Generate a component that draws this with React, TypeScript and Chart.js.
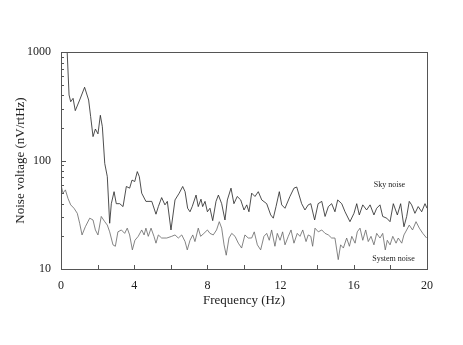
import React, { useEffect, useRef } from "react";
import { Chart, registerables } from "chart.js";

Chart.register(...registerables);

const skyFreq = [
  0.3, 0.44, 0.53, 0.66, 0.78, 1.02, 1.29, 1.51, 1.62, 1.75, 1.88, 2.02, 2.15, 2.26, 2.39, 2.53, 2.66, 2.75, 2.9, 3.02,
  3.21, 3.39, 3.57, 3.75, 3.88, 4.03, 4.17, 4.28, 4.41, 4.64, 4.96, 5.19, 5.32, 5.5, 5.68, 5.81, 6.01, 6.23, 6.46, 6.65,
  6.78, 6.92, 7.05, 7.17, 7.38, 7.5, 7.65, 7.74, 7.87, 8.0, 8.14, 8.29, 8.47, 8.6, 8.78, 8.96, 9.09, 9.29, 9.45, 9.63,
  9.82, 10.0, 10.15, 10.27, 10.42, 10.6, 10.78, 10.97, 11.24, 11.46, 11.6, 11.75, 11.93, 12.06, 12.24, 12.51, 12.73, 12.88, 13.15, 13.33,
  13.51, 13.65, 13.86, 14.05, 14.25, 14.43, 14.61, 14.79, 14.97, 15.12, 15.34, 15.52, 15.79, 16.01, 16.16, 16.3, 16.49, 16.7, 16.89, 17.1,
  17.25, 17.43, 17.58, 17.8, 17.98, 18.16, 18.38, 18.56, 18.74, 18.89, 19.03, 19.16, 19.34, 19.52, 19.71, 19.89, 20.0,
];
const skyNoise = [
  1400, 402, 348, 374, 288, 361, 473, 361, 254, 166, 195, 176, 261, 205, 94, 71, 26.4, 40, 51.6, 40,
  40, 37.6, 57.6, 55.6, 66, 64, 79, 71, 50, 42, 42, 32, 37.6, 45.5, 39, 42, 22.9, 43.3, 50, 57.6,
  51.6, 36.3, 33.7, 37.6, 48, 37.6, 44, 37.6, 42, 33.7, 36.3, 27.9, 42, 48, 40, 28.3, 43.3, 55.6, 40, 46.6,
  43.3, 35, 39, 33.7, 50, 46.6, 51.6, 43.3, 40, 31.5, 29.4, 37.6, 51.6, 39, 36.3, 46.6, 55.6, 57, 40, 35,
  39, 40, 28.3, 40, 42, 30.5, 37.6, 40, 33.7, 43.3, 40, 33.7, 27.3, 32.6, 40, 31.5, 39, 35, 39, 31.5,
  36.3, 39, 30.5, 29.4, 27.3, 40, 31.5, 40, 24.5, 30.5, 42, 39, 32.6, 37.6, 33.7, 40, 36.3,
];

const sysFreq = [
  0.0, 0.11, 0.24, 0.38, 0.53, 0.71, 0.89, 1.02, 1.15, 1.33, 1.57, 1.75, 1.88, 2.02, 2.2, 2.39, 2.53, 2.66, 2.84, 2.97,
  3.11, 3.3, 3.48, 3.62, 3.75, 3.9, 4.04, 4.22, 4.41, 4.54, 4.64, 4.77, 4.92, 5.08, 5.19, 5.32, 5.5, 5.78, 6.05, 6.23,
  6.41, 6.6, 6.78, 6.9, 7.05, 7.2, 7.32, 7.5, 7.63, 7.81, 8.0, 8.14, 8.32, 8.5, 8.65, 8.78, 8.91, 9.03, 9.18, 9.33,
  9.51, 9.69, 9.87, 10.05, 10.23, 10.42, 10.56, 10.73, 10.91, 11.09, 11.24, 11.38, 11.51, 11.69, 11.82, 11.97, 12.11, 12.24, 12.42, 12.57,
  12.73, 12.91, 13.06, 13.21, 13.39, 13.51, 13.65, 13.75, 13.88, 14.06, 14.25, 14.43, 14.61, 14.79, 14.97, 15.15, 15.28, 15.43, 15.61, 15.76,
  15.89, 16.07, 16.19, 16.34, 16.49, 16.65, 16.79, 16.94, 17.1, 17.25, 17.43, 17.58, 17.72, 17.83, 17.98, 18.13, 18.31, 18.43, 18.62, 18.74,
  18.89, 19.03, 19.21, 19.4, 19.58, 19.77, 19.98,
];
const sysNoise = [
  59.5, 50, 53.6, 44.8, 39, 36.3, 32.6, 26.4, 20.6, 24.5, 29.4, 28.3, 22.9, 20.6, 30.5, 27.3, 25.4, 22, 16.7, 16.2,
  22, 22.9, 21.3, 23.8, 20.6, 15, 18.4, 20, 22.9, 20.6, 23.8, 20, 23.8, 20, 17.3, 20.6, 19.3, 19.3, 20, 20.6,
  19.3, 20.6, 17.9, 15, 18.4, 20.6, 17.9, 23.8, 20, 21.3, 22.9, 21.3, 20.6, 22.9, 27.3, 23.8, 16.7, 13.4, 19.3, 21.3,
  20, 17.3, 15.6, 20.6, 19.3, 19.3, 22, 16.7, 15, 20, 21.3, 18.4, 22.9, 16.2, 21.3, 18.4, 22, 16.7, 20, 22.9,
  17.3, 21.3, 20, 22.9, 17.9, 20.6, 20, 16.2, 23.8, 22, 22.9, 21.3, 20.6, 19.3, 19.3, 12.2, 16.7, 15.6, 19.3, 16.2,
  20, 17.3, 22, 23.8, 18.4, 22.9, 17.9, 20, 16.7, 21.3, 19.3, 21.3, 15, 18.4, 16.7, 20, 17.3, 19.3, 17.3, 20.6,
  22.9, 25.4, 22.9, 27.3, 23.8, 21.3, 19.3,
];

const yTickLabels = [10, 100, 1000];
const xLabelStep = 4;
const xMinorStep = 2;

const labelNotes = [
  { text: "Sky noise", x: 17.95, y: 59.4 },
  { text: "System noise", x: 18.17, y: 12.4 },
];

const SERIF = "'Liberation Serif', 'DejaVu Serif', serif";

const framePlugin = {
  id: "frame",
  afterDatasetsDraw(chart: any) {
    const { ctx, chartArea: a, scales } = chart;
    const x = scales.x;
    const y = scales.y;
    ctx.save();
    ctx.strokeStyle = "#555";
    ctx.lineWidth = 1;
    ctx.strokeRect(Math.round(a.left) + 0.5, Math.round(a.top) + 0.5, Math.round(a.right - a.left), Math.round(a.bottom - a.top));
    ctx.beginPath();
    for (let v = x.min; v <= x.max + 1e-9; v += xMinorStep) {
      const px = Math.round(x.getPixelForValue(v)) + 0.5;
      ctx.moveTo(px, a.bottom);
      ctx.lineTo(px, a.bottom - 4);
    }
    for (let d = 10; d < 1000; d *= 10) {
      for (let m = 1; m <= 9; m++) {
        const py = Math.round(y.getPixelForValue(d * m)) + 0.5;
        const len = m === 1 ? 5 : 3;
        ctx.moveTo(a.left, py);
        ctx.lineTo(a.left + len, py);
      }
    }
    ctx.stroke();
    ctx.fillStyle = "#222";
    ctx.font = `8px ${SERIF}`;
    ctx.textAlign = "center";
    ctx.textBaseline = "middle";
    for (const n of labelNotes) {
      ctx.fillText(n.text, x.getPixelForValue(n.x), y.getPixelForValue(n.y));
    }
    ctx.restore();
  },
};

export default function App() {
  const ref = useRef<HTMLCanvasElement | null>(null);
  useEffect(() => {
    if (!ref.current) return;
    const chart = new Chart(ref.current, {
      type: "line",
      data: {
        datasets: [
          {
            label: "Sky noise",
            data: skyFreq.map((f, i) => ({ x: f, y: skyNoise[i] })),
            borderColor: "#222",
            borderWidth: 0.8,
            pointRadius: 0,
            tension: 0,
          },
          {
            label: "System noise",
            data: sysFreq.map((f, i) => ({ x: f, y: sysNoise[i] })),
            borderColor: "#666",
            borderWidth: 0.8,
            pointRadius: 0,
            tension: 0,
          },
        ],
      },
      options: {
        animation: false,
        responsive: false,
        layout: { padding: { top: 52, right: 36, left: 0, bottom: 0 } },
        plugins: { legend: { display: false }, tooltip: { enabled: false } },
        scales: {
          x: {
            type: "linear",
            min: 0,
            max: 20,
            grid: { display: false, drawTicks: false },
            border: { display: false },
            ticks: { stepSize: xLabelStep, padding: 10, color: "#222", font: { family: SERIF, size: 12 } },
            title: {
              display: true,
              text: "Frequency (Hz)",
              color: "#222",
              font: { family: SERIF, size: 13 },
              padding: { top: 0, bottom: 37 },
            },
            afterFit: (s: any) => {
              s.height = 76;
            },
          },
          y: {
            type: "logarithmic",
            min: 10,
            max: 1000,
            grid: { display: false, drawTicks: false },
            border: { display: false },
            afterBuildTicks: (s: any) => {
              s.ticks = yTickLabels.map((v) => ({ value: v }));
            },
            ticks: {
              padding: 10,
              color: "#222",
              font: { family: SERIF, size: 12 },
              callback: (v: any) => String(v),
            },
            title: {
              display: true,
              text: "Noise voltage (nV/rtHz)",
              color: "#222",
              font: { family: SERIF, size: 13 },
              padding: { top: 13, bottom: 0 },
            },
            afterFit: (s: any) => {
              s.width = 61;
            },
          },
        },
      },
      plugins: [framePlugin],
    });
    return () => chart.destroy();
  }, []);
  return (
    <div style={{ position: "fixed", left: 0, top: 0, width: 463, height: 345, background: "#fff" }}>
      <canvas ref={ref} width={463} height={345} />
    </div>
  );
}
